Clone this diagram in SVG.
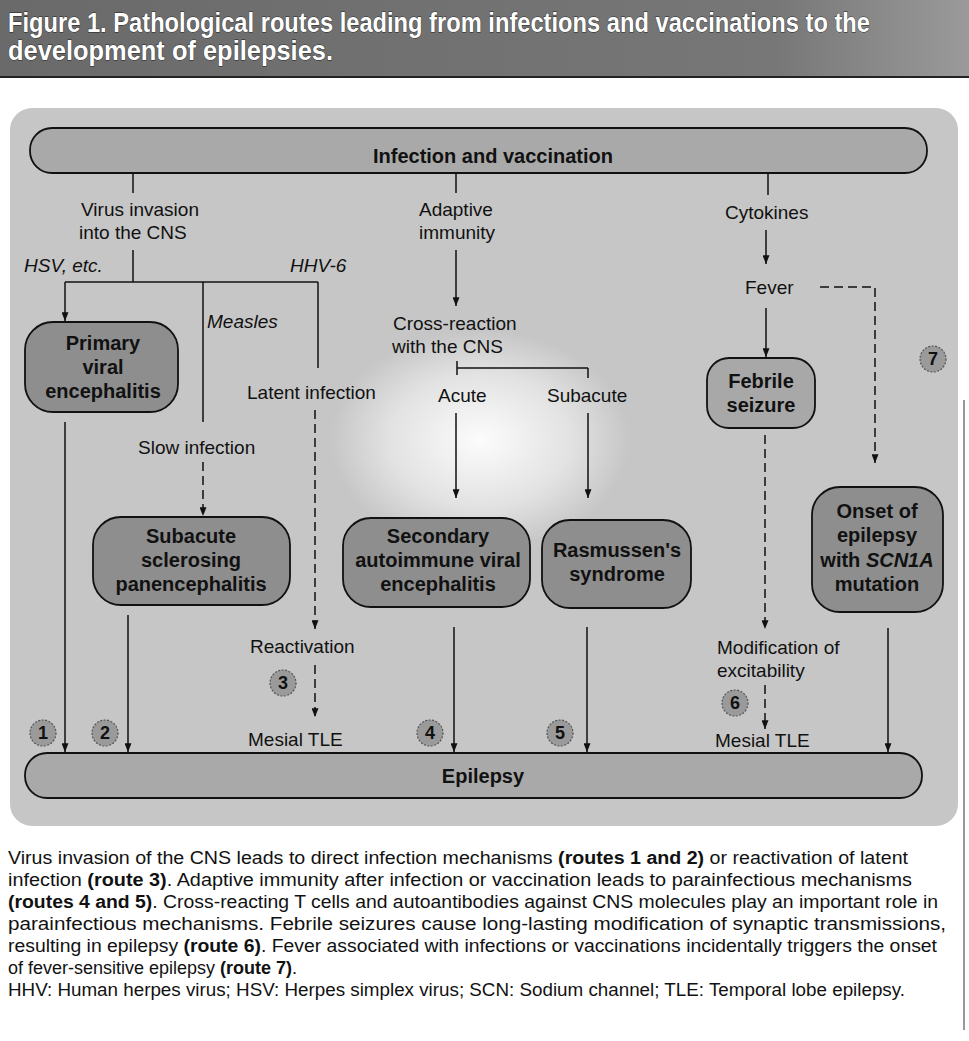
<svg xmlns="http://www.w3.org/2000/svg" width="969" height="1041" viewBox="0 0 969 1041">
<defs>
<style>
.lbl{font-family:"Liberation Sans",Arial,sans-serif;font-size:19px;fill:#111}
.it{font-style:italic}
.nt{font-family:"Liberation Sans",Arial,sans-serif;font-size:20px;font-weight:bold;fill:#111;text-anchor:middle}
.node{fill:#8e8e8e;stroke:#111;stroke-width:1.8}
.pill{fill:#a9a9a9;stroke:#111;stroke-width:1.8}
.ln{fill:none;stroke:#111;stroke-width:1.5}
.arr{fill:none;stroke:#111;stroke-width:1.5;marker-end:url(#ah)}
.darr{fill:none;stroke:#111;stroke-width:1.5;stroke-dasharray:9 5;marker-end:url(#ah)}
.num{fill:#9a9a9a;stroke:#555;stroke-width:1.2;stroke-dasharray:2 1.5}
.nn{font-family:"Liberation Sans",Arial,sans-serif;font-size:18px;font-weight:bold;fill:#111;text-anchor:middle}
.cap{font-family:"Liberation Sans",Arial,sans-serif;font-size:17.5px;fill:#111}
.hd{font-family:"Liberation Sans",Arial,sans-serif;font-size:24px;font-weight:bold;fill:#fff;stroke:#222;stroke-width:0.7;paint-order:stroke}
</style>
<marker id="ah" viewBox="0 0 10 8" refX="10" refY="4" markerWidth="10" markerHeight="7" markerUnits="userSpaceOnUse" orient="auto">
<path d="M0,0 L10,4 L0,8 z" fill="#111"/>
</marker>
<radialGradient id="glow" cx="0.5" cy="0.5" r="0.5">
<stop offset="0" stop-color="#ffffff" stop-opacity="0.95"/>
<stop offset="0.6" stop-color="#ffffff" stop-opacity="0.5"/>
<stop offset="1" stop-color="#ffffff" stop-opacity="0"/>
</radialGradient>
<linearGradient id="hdg" x1="0" y1="0" x2="1" y2="0">
<stop offset="0" stop-color="#6a6a6a"/>
<stop offset="0.8" stop-color="#777"/>
<stop offset="1" stop-color="#9a9a9a"/>
</linearGradient>
</defs>
<rect width="969" height="1041" fill="#ffffff"/>

<g id="header">
<rect x="0" y="0" width="969" height="77" fill="url(#hdg)"/>
<line x1="0" y1="77" x2="969" y2="77" stroke="#222" stroke-width="2"/>
<g transform="scale(1,1.15)">
<text class="hd" x="8" y="27.5" textLength="862" lengthAdjust="spacingAndGlyphs">Figure 1. Pathological routes leading from infections and vaccinations to the</text>
<text class="hd" x="8" y="52" textLength="325" lengthAdjust="spacingAndGlyphs">development of epilepsies.</text>
</g>
</g>

<g id="panel">
<rect x="10" y="108" width="948" height="718" rx="22" fill="#c6c6c6"/>
<ellipse cx="480" cy="440" rx="150" ry="110" fill="url(#glow)"/>
</g>

<g id="connectors">
<line class="ln" x1="133" y1="173" x2="133" y2="193"/>
<line class="ln" x1="133" y1="250" x2="133" y2="282"/>
<line class="ln" x1="65" y1="282" x2="318" y2="282"/>
<line class="arr" x1="65" y1="282" x2="65" y2="321"/>
<line class="ln" x1="203" y1="282" x2="203" y2="422"/>
<line class="ln" x1="318" y1="282" x2="318" y2="368"/>
<line class="darr" x1="203" y1="462" x2="203" y2="516"/>
<line class="darr" x1="315" y1="410" x2="315" y2="629"/>
<line class="darr" x1="315" y1="665" x2="315" y2="717"/>
<line class="arr" x1="65" y1="422" x2="65" y2="752"/>
<line class="arr" x1="128" y1="615" x2="128" y2="752"/>
<line class="ln" x1="456" y1="173" x2="456" y2="193"/>
<line class="arr" x1="456" y1="250" x2="456" y2="306"/>
<line class="ln" x1="457" y1="361" x2="457" y2="375"/>
<line class="ln" x1="457" y1="368" x2="588" y2="368"/>
<line class="ln" x1="588" y1="368" x2="588" y2="378"/>
<line class="arr" x1="456" y1="413" x2="456" y2="498"/>
<line class="arr" x1="588" y1="413" x2="588" y2="498"/>
<line class="arr" x1="454" y1="627" x2="454" y2="752"/>
<line class="arr" x1="587" y1="627" x2="587" y2="752"/>
<line class="ln" x1="768" y1="173" x2="768" y2="195"/>
<line class="arr" x1="766" y1="230" x2="766" y2="264"/>
<line class="arr" x1="766" y1="308" x2="766" y2="357"/>
<path class="darr" d="M820,287 H875 V463"/>
<line class="darr" x1="765" y1="435" x2="765" y2="629"/>
<line class="darr" x1="765" y1="685" x2="765" y2="729"/>
<line class="arr" x1="888" y1="628" x2="888" y2="752"/>
</g>

<g id="labels">
<text class="lbl" x="140" y="216" text-anchor="middle">Virus invasion</text>
<text class="lbl" x="79" y="239">into the CNS</text>
<text class="lbl it" x="24" y="272">HSV, etc.</text>
<text class="lbl it" x="290" y="272">HHV-6</text>
<text class="lbl it" x="207" y="328">Measles</text>
<text class="lbl" x="247" y="399">Latent infection</text>
<text class="lbl" x="138" y="454">Slow infection</text>
<text class="lbl" x="250" y="653">Reactivation</text>
<text class="lbl" x="248" y="746">Mesial TLE</text>
<text class="lbl" x="419" y="216">Adaptive</text>
<text class="lbl" x="419" y="239">immunity</text>
<text class="lbl" x="393" y="330">Cross-reaction</text>
<text class="lbl" x="392" y="353">with the CNS</text>
<text class="lbl" x="438" y="402">Acute</text>
<text class="lbl" x="547" y="402">Subacute</text>
<text class="lbl" x="725" y="219">Cytokines</text>
<text class="lbl" x="745" y="294">Fever</text>
<text class="lbl" x="717" y="654">Modification of</text>
<text class="lbl" x="717" y="677">excitability</text>
<text class="lbl" x="715" y="747">Mesial TLE</text>
</g>

<g id="node-infection">
<rect class="pill" x="30" y="128" width="897" height="45" rx="22"/>
<text class="nt" x="493" y="163">Infection and vaccination</text>
</g>
<g id="node-epilepsy">
<rect class="pill" x="25" y="753" width="897" height="45" rx="22"/>
<text class="nt" x="483" y="783">Epilepsy</text>
</g>
<g id="node-primary">
<rect class="node" x="25" y="322" width="153" height="90" rx="28"/>
<text class="nt" x="103" y="350">Primary</text>
<text class="nt" x="103" y="374">viral</text>
<text class="nt" x="103" y="398">encephalitis</text>
</g>
<g id="node-sspe">
<rect class="node" x="93" y="517" width="197" height="88" rx="28"/>
<text class="nt" x="191" y="543">Subacute</text>
<text class="nt" x="191" y="567">sclerosing</text>
<text class="nt" x="191" y="591">panencephalitis</text>
</g>
<g id="node-secondary">
<rect class="node" x="343" y="518" width="187" height="89" rx="28"/>
<text class="nt" x="438" y="543">Secondary</text>
<text class="nt" x="438" y="567">autoimmune viral</text>
<text class="nt" x="438" y="591">encephalitis</text>
</g>
<g id="node-rasmussen">
<rect class="node" x="542" y="520" width="149" height="88" rx="28"/>
<text class="nt" x="617" y="557">Rasmussen's</text>
<text class="nt" x="617" y="581">syndrome</text>
</g>
<g id="node-febrile">
<rect class="node" x="707" y="358" width="108" height="70" rx="22" style="fill:#a8a8a8"/>
<text class="nt" x="761" y="388">Febrile</text>
<text class="nt" x="761" y="412">seizure</text>
</g>
<g id="node-onset">
<rect class="node" x="812" y="487" width="131" height="125" rx="28"/>
<text class="nt" x="877" y="518">Onset of</text>
<text class="nt" x="877" y="542">epilepsy</text>
<text class="nt" x="877" y="567">with <tspan font-style="italic">SCN1A</tspan></text>
<text class="nt" x="877" y="591">mutation</text>
</g>

<g id="route-numbers">
<circle class="num" cx="43" cy="733" r="13"/><text class="nn" x="43" y="739">1</text>
<circle class="num" cx="105" cy="733" r="13"/><text class="nn" x="105" y="739">2</text>
<circle class="num" cx="283" cy="683" r="13"/><text class="nn" x="283" y="689">3</text>
<circle class="num" cx="430" cy="733" r="13"/><text class="nn" x="430" y="739">4</text>
<circle class="num" cx="560" cy="733" r="13"/><text class="nn" x="560" y="739">5</text>
<circle class="num" cx="735" cy="703" r="13"/><text class="nn" x="735" y="709">6</text>
<circle class="num" cx="933" cy="359" r="13"/><text class="nn" x="933" y="365">7</text>
</g>

<g id="caption">
<line x1="964" y1="400" x2="964" y2="1030" stroke="#333" stroke-width="1"/>
<text class="cap" x="8" y="864" textLength="900" lengthAdjust="spacingAndGlyphs">Virus invasion of the CNS leads to direct infection mechanisms <tspan font-weight="bold">(routes 1 and 2)</tspan> or reactivation of latent</text>
<text class="cap" x="8" y="886" textLength="904" lengthAdjust="spacingAndGlyphs">infection <tspan font-weight="bold">(route 3)</tspan>. Adaptive immunity after infection or vaccination leads to parainfectious mechanisms</text>
<text class="cap" x="8" y="908" textLength="930" lengthAdjust="spacingAndGlyphs"><tspan font-weight="bold">(routes 4 and 5)</tspan>. Cross-reacting T cells and autoantibodies against CNS molecules play an important role in</text>
<text class="cap" x="8" y="930" textLength="938" lengthAdjust="spacingAndGlyphs">parainfectious mechanisms. Febrile seizures cause long-lasting modification of synaptic transmissions,</text>
<text class="cap" x="8" y="952" textLength="929" lengthAdjust="spacingAndGlyphs">resulting in epilepsy <tspan font-weight="bold">(route 6)</tspan>. Fever associated with infections or vaccinations incidentally triggers the onset</text>
<text class="cap" x="8" y="974" style="font-size:18px">of fever-sensitive epilepsy <tspan font-weight="bold">(route 7)</tspan>.</text>
<text class="cap" x="8" y="996" textLength="897" lengthAdjust="spacingAndGlyphs">HHV: Human herpes virus; HSV: Herpes simplex virus; SCN: Sodium channel; TLE: Temporal lobe epilepsy.</text>
</g>
</svg>
